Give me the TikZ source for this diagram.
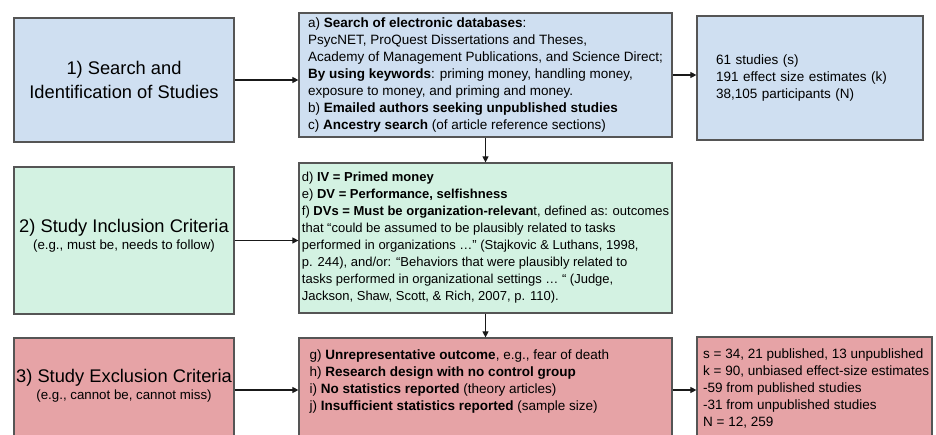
\documentclass[tikz,border=0pt]{standalone}
\usepackage{xcolor}
\usepackage{fontspec}
\setmainfont{Liberation Sans}
\usepackage{tikz}
\usetikzlibrary{positioning}
\usetikzlibrary {arrows.meta}

\definecolor{searchblue}{HTML}{CFDFF1}
\definecolor{inclgreen}{HTML}{D3F2E2}
\definecolor{exclred}{HTML}{E6A3A6}
\definecolor{boxline}{HTML}{555555}

\tikzset{
  stagebox/.style={draw=boxline, line width=1.2pt, inner sep=0pt},
  stagetext/.style={align=center, inner sep=0pt, font=\fontsize{18.3}{24}\selectfont},
  listtext/.style={align=left, inner sep=0pt, font=\fontsize{13.5}{17}\selectfont},
  flow/.style={-{Triangle[length=6pt,width=6pt]}, line width=1.1pt, black!90}
}
\newcommand{\subnote}[1]{{\fontsize{13.3}{13}\selectfont #1}}

\begin{document}
\begin{tikzpicture}[x=1pt,y=-1pt]
        \useasboundingbox (0,0) rectangle (936,434);
        \clip (0,0) rectangle (936,434);

        % 1) Search and identification
        \node[stagebox, stagetext, fill=searchblue, minimum width=220, minimum height=124]
            (search) at (124,80) {1) Search and\\Identification of Studies};
        \node[stagebox, listtext, fill=searchblue, minimum width=373, minimum height=124]
            (searchdb) at (485.5,75) {a) \textbf{Search of electronic databases}:\\
            PsycNET, ProQuest Dissertations and Theses,\\
            Academy of Management Publications, and Science Direct;\\
            \textbf{By using keywords}: priming money, handling money,\\
            exposure to money, and priming and money.\\
            b) \textbf{Emailed authors seeking unpublished studies}\\
            c) \textbf{Ancestry search} (of article reference sections)};
        \node[stagebox, listtext, fill=searchblue, minimum width=226, minimum height=124,
            text width=188, inner xsep=19]
            (searchres) at (810,78) {61 studies (s)\\191 effect size estimates (k)\\38,105 participants (N)};

        % 2) Inclusion criteria
        \node[stagebox, fill=inclgreen, minimum width=220, minimum height=147] (incl) at (124,240.5) {};
        \node[stagetext, anchor=north] (incllbl) at (124,219)
            {2) Study Inclusion Criteria\\[-7pt]\subnote{(e.g., must be, needs to follow)}};
        \node[stagebox, listtext, font=\fontsize{13}{17}\selectfont, fill=inclgreen,
            minimum width=373, minimum height=150]
            (incldb) at (485.5,238) {d) \textbf{IV = Primed money}\\
            e) \textbf{DV = Performance, selfishness}\\
            f) \textbf{DVs = Must be organization-relevan}t, defined as: outcomes\\
            that “could be assumed to be plausibly related to tasks\\
            performed in organizations …" (Stajkovic \& Luthans, 1998,\\
            p. 244), and/or: “Behaviors that were plausibly related to\\
            tasks performed in organizational settings … “ (Judge,\\
            Jackson, Shaw, Scott, \& Rich, 2007, p. 110).};

        % 3) Exclusion criteria
        \node[stagebox, fill=exclred, minimum width=220, minimum height=104] (excl) at (124,390) {};
        \node[stagetext, anchor=north] (excllbl) at (124,369)
            {3) Study Exclusion Criteria\\[-7pt]\subnote{(e.g., cannot be, cannot miss)}};
        \node[stagebox, fill=exclred, minimum width=373, minimum height=104] (excldb) at (485.5,390) {};
        \node[listtext, anchor=north west] (excllist) at (309.5,350)
            {g) \textbf{Unrepresentative outcome}, e.g., fear of death\\
            h) \textbf{Research design with no control group}\\
            i) \textbf{No statistics reported} (theory articles)\\
            j) \textbf{Insufficient statistics reported} (sample size)};
        \node[stagebox, fill=exclred, minimum width=235, minimum height=105] (exclres) at (814.5,389.5) {};
        \node[listtext, anchor=north west] (exclcount) at (703,348.5)
            {s = 34, 21 published, 13 unpublished\\
            k = 90, unbiased effect-size estimates\\
            -59 from published studies\\
            -31 from unpublished studies\\
            N = 12, 259};

        % Connectors
        \draw[flow] (search.east) -- (search.east -| searchdb.west);
        \draw[flow] (searchdb.east) -- (searchdb.east -| searchres.west);
        \draw[flow] (searchdb.south) -- (incldb.north);
        \draw[flow] (incl.east) -- (incl.east -| incldb.west);
        \draw[flow] (incldb.south) -- (excldb.north);
        \draw[flow] (excl.east) -- (excl.east -| excldb.west);
        \draw[flow] (excldb.east) -- (excldb.east -| exclres.west);
    \end{tikzpicture}
\end{document}
